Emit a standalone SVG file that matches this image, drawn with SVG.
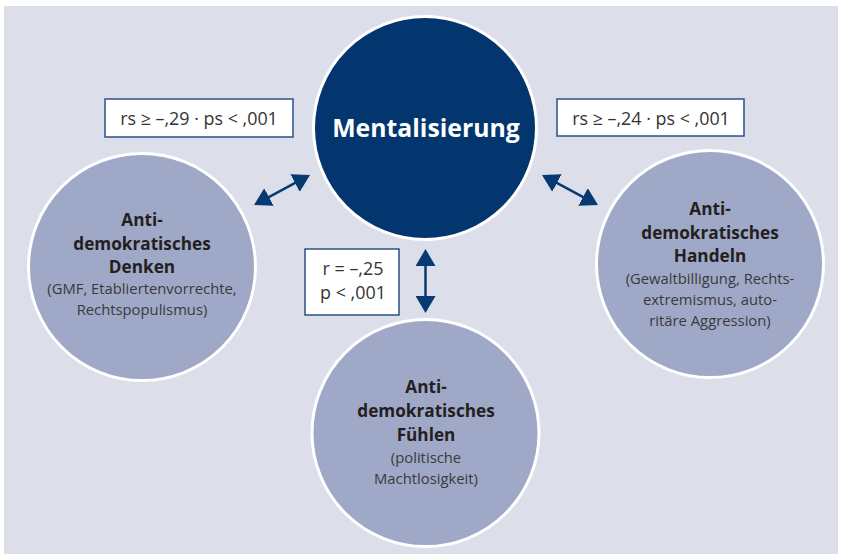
<svg xmlns="http://www.w3.org/2000/svg" width="841" height="558" viewBox="0 0 841 558">
<defs>
<style>
.bg{fill:#dcdfea}
.outer{fill:#9fa8c7;stroke:#ffffff;stroke-width:3}
.core{fill:#03366e;stroke:#ffffff;stroke-width:3}
.t{font-family:"Open Sans","Liberation Sans",sans-serif;text-anchor:middle}
.b{font-weight:bold;font-size:17.2px;fill:#231f20}
.r{font-size:14.8px;fill:#3a3a3a}
.lbl{font-size:17.9px;fill:#333333}
.box{fill:#ffffff;stroke:#2a5186;stroke-width:1.5}
.conn{stroke:#063a73;stroke-width:2.5;fill:none;marker-start:url(#ah);marker-end:url(#ah)}
</style>
<marker id="ah" viewBox="0 0 17 20" refX="7" refY="10" markerWidth="17" markerHeight="20" markerUnits="userSpaceOnUse" orient="auto-start-reverse">
<path d="M0,0 L17,10 L0,20 z" fill="#063a73"/>
</marker>
</defs>
<rect class="bg" x="4" y="6" width="834" height="548"/>
<g id="connectors">
<line class="conn" x1="262.8" y1="200.3" x2="301.2" y2="179.7"/>
<line class="conn" x1="550.8" y1="179.7" x2="589.2" y2="200.3"/>
<line class="conn" x1="425.5" y1="259" x2="425.5" y2="303"/>
</g>
<g id="mentalisierung">
<circle class="core" cx="425" cy="128" r="111.5"/>
<text class="t" x="426" y="137" font-size="24.8" font-weight="bold" fill="#ffffff">Mentalisierung</text>
</g>
<g id="denken">
<circle class="outer" cx="142" cy="267" r="113.5"/>
<text class="t b" x="142" y="226">Anti-</text>
<text class="t b" x="142" y="249.5">demokratisches</text>
<text class="t b" x="142" y="273">Denken</text>
<text class="t r" x="142" y="294">(GMF, Etabliertenvorrechte,</text>
<text class="t r" x="142" y="315">Rechtspopulismus)</text>
</g>
<g id="handeln">
<circle class="outer" cx="710" cy="264" r="113.5"/>
<text class="t b" x="710" y="215">Anti-</text>
<text class="t b" x="710" y="238.5">demokratisches</text>
<text class="t b" x="710" y="262">Handeln</text>
<text class="t r" x="710" y="283.5">(Gewaltbilligung, Rechts-</text>
<text class="t r" x="710" y="305">extremismus, auto-</text>
<text class="t r" x="710" y="326">ritäre Aggression)</text>
</g>
<g id="fuehlen">
<circle class="outer" cx="425.5" cy="433" r="113.5"/>
<text class="t b" x="426" y="393">Anti-</text>
<text class="t b" x="426" y="417">demokratisches</text>
<text class="t b" x="426" y="441">Fühlen</text>
<text class="t r" x="426" y="463">(politische</text>
<text class="t r" x="426" y="484">Machtlosigkeit)</text>
</g>
<g id="label-denken">
<rect class="box" x="105" y="99" width="188" height="38"/>
<text class="t lbl" x="199" y="125">rs ≥ –,29 · ps &lt; ,001</text>
</g>
<g id="label-handeln">
<rect class="box" x="557" y="99" width="187" height="37"/>
<text class="t lbl" x="651" y="125">rs ≥ –,24 · ps &lt; ,001</text>
</g>
<g id="label-fuehlen">
<rect class="box" x="305" y="249" width="94" height="66"/>
<text class="t lbl" x="353" y="275">r = –,25</text>
<text class="t lbl" x="353" y="299">p &lt; ,001</text>
</g>
</svg>
